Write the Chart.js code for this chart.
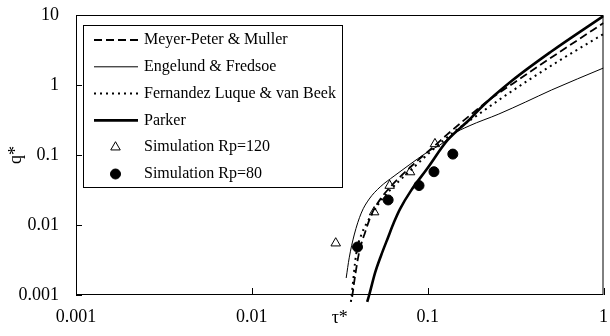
<!DOCTYPE html>
<html>
<head>
<meta charset="utf-8">
<script src="https://cdn.jsdelivr.net/npm/chart.js@4.4.1/dist/chart.umd.min.js"></script>
<style>
  body { margin: 0; background: #fff; }
  #wrap { width: 610px; height: 336px; }
</style>
</head>
<body>
<div id="wrap"><canvas id="transportChart" width="610" height="336"></canvas></div>
<script>
const SERIF = '"Liberation Serif", "Times New Roman", serif';

// decade ticks on both axes
const xTicks = [0.001, 0.01, 0.1, 1];
const xTickLabels = ['0.001', '0.01', '0.1', '1'];
const yTicks = [0.001, 0.01, 0.1, 1, 10];
const yTickLabels = ['0.001', '0.01', '0.1', '1', '10'];

const seriesNames = [
  'Meyer-Peter & Muller',
  'Engelund & Fredsoe',
  'Fernandez Luque & van Beek',
  'Parker',
  'Simulation Rp=120',
  'Simulation Rp=80'
];

// bedload curves: tau* against q*
const mpmTau = [0.0372, 0.0387, 0.0408, 0.0441, 0.0483, 0.0544, 0.062, 0.0725, 0.087, 0.106, 0.132, 0.172, 0.223, 0.309, 0.428, 0.633, 1];
const mpmQ = [0.00094, 0.0019, 0.0041, 0.0079, 0.0148, 0.0243, 0.036, 0.0536, 0.082, 0.126, 0.206, 0.36, 0.61, 1.07, 1.87, 3.6, 7.7];

const efTau = [0.0344, 0.0358, 0.0382, 0.0419, 0.0465, 0.0537, 0.0644, 0.0784, 0.098, 0.124, 0.137, 0.172, 0.254, 0.361, 0.507, 1];
const efQ = [0.00175, 0.0034, 0.0072, 0.0148, 0.0235, 0.035, 0.05, 0.072, 0.107, 0.153, 0.193, 0.26, 0.385, 0.572, 0.85, 1.75];

const flTau = [0.0366, 0.0377, 0.0387, 0.0398, 0.0419, 0.0447, 0.0483, 0.053, 0.0604, 0.0688, 0.0836, 0.102, 0.124, 0.151, 0.196, 0.254, 0.376, 0.556, 1];
const flQ = [0.0008, 0.0016, 0.003, 0.0047, 0.0072, 0.0103, 0.0144, 0.0206, 0.0306, 0.0425, 0.067, 0.107, 0.164, 0.243, 0.385, 0.61, 1.18, 2.2, 5.35];

const pkTau = [0.0453, 0.0465, 0.0503, 0.0544, 0.0596, 0.0644, 0.0697, 0.0804, 0.099, 0.13, 0.172, 0.2, 0.3, 0.5, 1];
const pkQ = [0.0008, 0.001, 0.0021, 0.0037, 0.0067, 0.011, 0.017, 0.031, 0.063, 0.164, 0.316, 0.47, 1.14, 2.96, 9.7];

// simulation results
const rp120Tau = [0.030, 0.0496, 0.0608, 0.0794, 0.110];
const rp120Q = [0.0055, 0.0153, 0.0366, 0.0571, 0.144];
const rp80Tau = [0.0399, 0.0596, 0.0893, 0.1086, 0.139];
const rp80Q = [0.00485, 0.0228, 0.0366, 0.0577, 0.103];

function toPoints(xs, ys) {
  return xs.map((x, i) => ({ x: x, y: ys[i] }));
}

// let the curves run a few pixels under the bottom axis
const curveClip = { left: 0, top: 0, right: 0, bottom: 8 };

function curve(label, xs, ys, width, dash) {
  return {
    label: label,
    data: toPoints(xs, ys),
    showLine: true,
    borderColor: '#000',
    borderWidth: width,
    borderDash: dash,
    pointRadius: 0,
    fill: false,
    cubicInterpolationMode: 'monotone',
    clip: curveClip
  };
}

function markers(label, xs, ys, style, fillColor) {
  return {
    label: label,
    data: toPoints(xs, ys),
    showLine: false,
    pointStyle: style,
    pointRadius: style === 'triangle' ? 5.5 : 5,
    borderColor: '#000',
    borderWidth: 1,
    backgroundColor: fillColor,
    clip: false
  };
}

function drawMarker(ctx, ds, cx, cy) {
  const r = ds.pointRadius;
  ctx.beginPath();
  if (ds.pointStyle === 'triangle') {
    ctx.moveTo(cx, cy - r);
    ctx.lineTo(cx + Math.sin(2 * Math.PI / 3) * r, cy + r / 2);
    ctx.lineTo(cx - Math.sin(2 * Math.PI / 3) * r, cy + r / 2);
    ctx.closePath();
  } else {
    ctx.arc(cx, cy, r, 0, Math.PI * 2);
  }
  ctx.fillStyle = ds.backgroundColor;
  ctx.fill();
  ctx.lineWidth = ds.borderWidth;
  ctx.strokeStyle = ds.borderColor;
  ctx.stroke();
}

// boxed legend in the upper left of the plot
const legendBox = {
  id: 'legendBox',
  afterDatasetsDraw(chart) {
    const { ctx, chartArea: area } = chart;
    const left = area.left + 7;
    const top = area.top + 10;
    const w = 259, h = 162;
    ctx.save();
    ctx.fillStyle = '#fff';
    ctx.fillRect(left, top, w, h);
    ctx.strokeStyle = '#000';
    ctx.lineWidth = 1;
    ctx.strokeRect(left + 0.5, top + 0.5, w, h);
    ctx.font = '16px ' + SERIF;
    ctx.textBaseline = 'middle';
    chart.data.datasets.forEach((ds, i) => {
      const y = top + 15 + i * 26.8;
      const x0 = left + 11, x1 = left + 55;
      if (ds.showLine) {
        ctx.beginPath();
        ctx.setLineDash(ds.borderDash || []);
        ctx.lineWidth = ds.borderWidth;
        ctx.strokeStyle = ds.borderColor;
        ctx.moveTo(x0, y);
        ctx.lineTo(x1, y);
        ctx.stroke();
        ctx.setLineDash([]);
      } else {
        drawMarker(ctx, ds, (x0 + x1) / 2 - 0.5, y);
      }
      ctx.fillStyle = '#000';
      ctx.fillText(ds.label, left + 61, y);
    });
    ctx.restore();
  }
};

// plot frame with tick marks pointing inwards
const frame = {
  id: 'frame',
  afterDraw(chart) {
    const { ctx, chartArea: a, scales } = chart;
    ctx.save();
    ctx.strokeStyle = '#000';
    ctx.lineWidth = 1;
    ctx.strokeRect(a.left + 0.5, a.top + 0.5, a.width - 1, a.height - 1);
    ctx.beginPath();
    xTicks.forEach(v => {
      const px = Math.round(scales.x.getPixelForValue(v)) + 0.5;
      ctx.moveTo(px, a.bottom);
      ctx.lineTo(px, a.bottom - 7);
    });
    yTicks.forEach(v => {
      const py = Math.round(scales.y.getPixelForValue(v)) + 0.5;
      ctx.moveTo(a.left, py);
      ctx.lineTo(a.left + 6, py);
    });
    ctx.stroke();
    ctx.restore();
  }
};

// fixed axis boxes; tick labels may hang over the plot edges
function fixBox(size) {
  return s => {
    if (s.isHorizontal()) s.height = size; else s.width = size;
    s.paddingTop = 0;
    s.paddingBottom = 0;
    s.paddingLeft = 0;
    s.paddingRight = 0;
  };
}

const ctx = document.getElementById('transportChart').getContext('2d');

new Chart(ctx, {
  type: 'scatter',
  data: {
    datasets: [
      curve(seriesNames[0], mpmTau, mpmQ, 1.8, [8, 4]),
      curve(seriesNames[1], efTau, efQ, 1, []),
      curve(seriesNames[2], flTau, flQ, 2, [2, 4]),
      curve(seriesNames[3], pkTau, pkQ, 2.6, []),
      markers(seriesNames[4], rp120Tau, rp120Q, 'triangle', 'rgba(0,0,0,0)'),
      markers(seriesNames[5], rp80Tau, rp80Q, 'circle', '#000')
    ]
  },
  options: {
    responsive: false,
    animation: false,
    layout: { padding: { top: 15, right: 5, bottom: 0, left: 0 } },
    plugins: {
      legend: { display: false },
      tooltip: { enabled: false }
    },
    scales: {
      x: {
        type: 'logarithmic',
        position: 'bottom',
        min: 0.001,
        max: 1,
        grid: { display: false, drawTicks: false },
        border: { display: false },
        afterBuildTicks: s => { s.ticks = xTicks.map(v => ({ value: v })); },
        afterFit: fixBox(41),
        ticks: {
          autoSkip: false,
          maxRotation: 0,
          padding: 11,
          color: '#000',
          font: { family: SERIF, size: 18 },
          callback: (v, i) => xTickLabels[i]
        },
        title: {
          display: true,
          text: 'τ*',
          color: '#000',
          font: { family: SERIF, size: 18 },
          padding: { top: 0, bottom: 7 }
        }
      },
      y: {
        type: 'logarithmic',
        position: 'left',
        min: 0.001,
        max: 10,
        grid: { display: false, drawTicks: false },
        border: { display: false },
        afterBuildTicks: s => { s.ticks = yTicks.map(v => ({ value: v })); },
        afterFit: fixBox(76),
        ticks: {
          autoSkip: false,
          padding: 17,
          color: '#000',
          font: { family: SERIF, size: 18 },
          callback: (v, i) => yTickLabels[i]
        },
        title: {
          display: true,
          text: 'q*',
          color: '#000',
          font: { family: SERIF, size: 18 },
          padding: { top: 5, bottom: 0 }
        }
      }
    }
  },
  plugins: [legendBox, frame]
});
</script>
</body>
</html>
